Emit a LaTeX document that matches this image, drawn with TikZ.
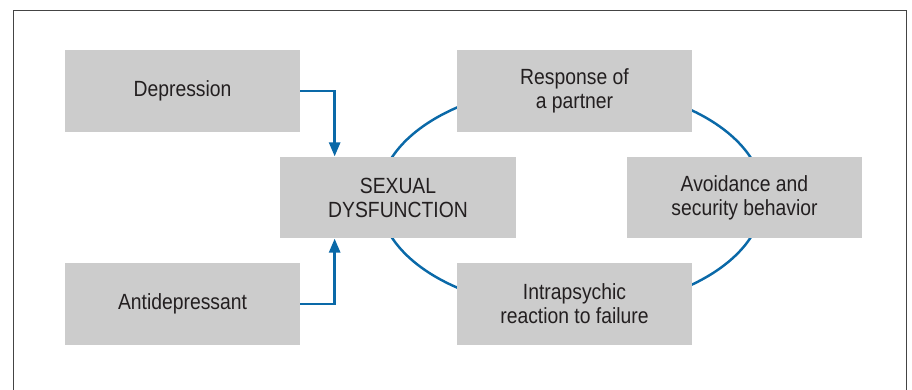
\documentclass[tikz,border=0pt]{standalone}
\usepackage{fontspec}
\setmainfont{Liberation Sans}[FakeStretch=0.88]
\usetikzlibrary{arrows.meta, positioning, calc, backgrounds}
\definecolor{cbox}{HTML}{CCCCCC}
\definecolor{cline}{HTML}{0A69A8}
\definecolor{ctext}{HTML}{231F20}
\definecolor{cframe}{HTML}{444444}
\tikzset{
  every picture/.style={font=\fontsize{12.5}{13.6}\selectfont, text=ctext},
  box/.style={fill=cbox, align=center, inner sep=0pt, minimum width=4.7cm, minimum height=1.63cm},
  arrow/.style={-{Triangle[length=2.8mm, width=2.2mm]}, draw=cline, line width=1.5pt},
  cycle/.style={draw=cline, line width=1.4pt},
  frame/.style={draw=cframe, line width=1pt},
}

\begin{document}
\begin{tikzpicture}
  \useasboundingbox (0,0) rectangle (18.24,-7.78);
  \draw[frame] (0.27,-7.9) -- (0.27,-0.21) -- (18.13,-0.21) -- (18.13,-7.9);

  \node[box] (dep) at (3.65,-1.82) {Depression};
  \node[box] (anti) at (3.65,-6.08) {Antidepressant};
  \node[box, minimum width=4.72cm] (dys) at (7.96,-3.95) {SEXUAL\\ DYSFUNCTION};
  \node[box] (resp) at (11.49,-1.82) {Response of\\ a partner};
  \node[box] (avoid) at (14.89,-3.95) {Avoidance and\\ security behavior};
  \node[box] (intra) at (11.49,-6.08) {Intrapsychic\\ reaction to failure};

  \draw[arrow] (dep.east) -| ([xshift=1.1cm]dys.north west);
  \draw[arrow] (anti.east) -| ([xshift=1.1cm]dys.south west);

  % the vicious circle runs behind the boxes
  \begin{scope}[on background layer]
    \coordinate (mid) at ($(dys.center)!0.5!(avoid.center)$);
    \draw[cycle] (mid) ellipse [x radius=3.84cm, y radius=2.24cm];
  \end{scope}
\end{tikzpicture}
\end{document}
